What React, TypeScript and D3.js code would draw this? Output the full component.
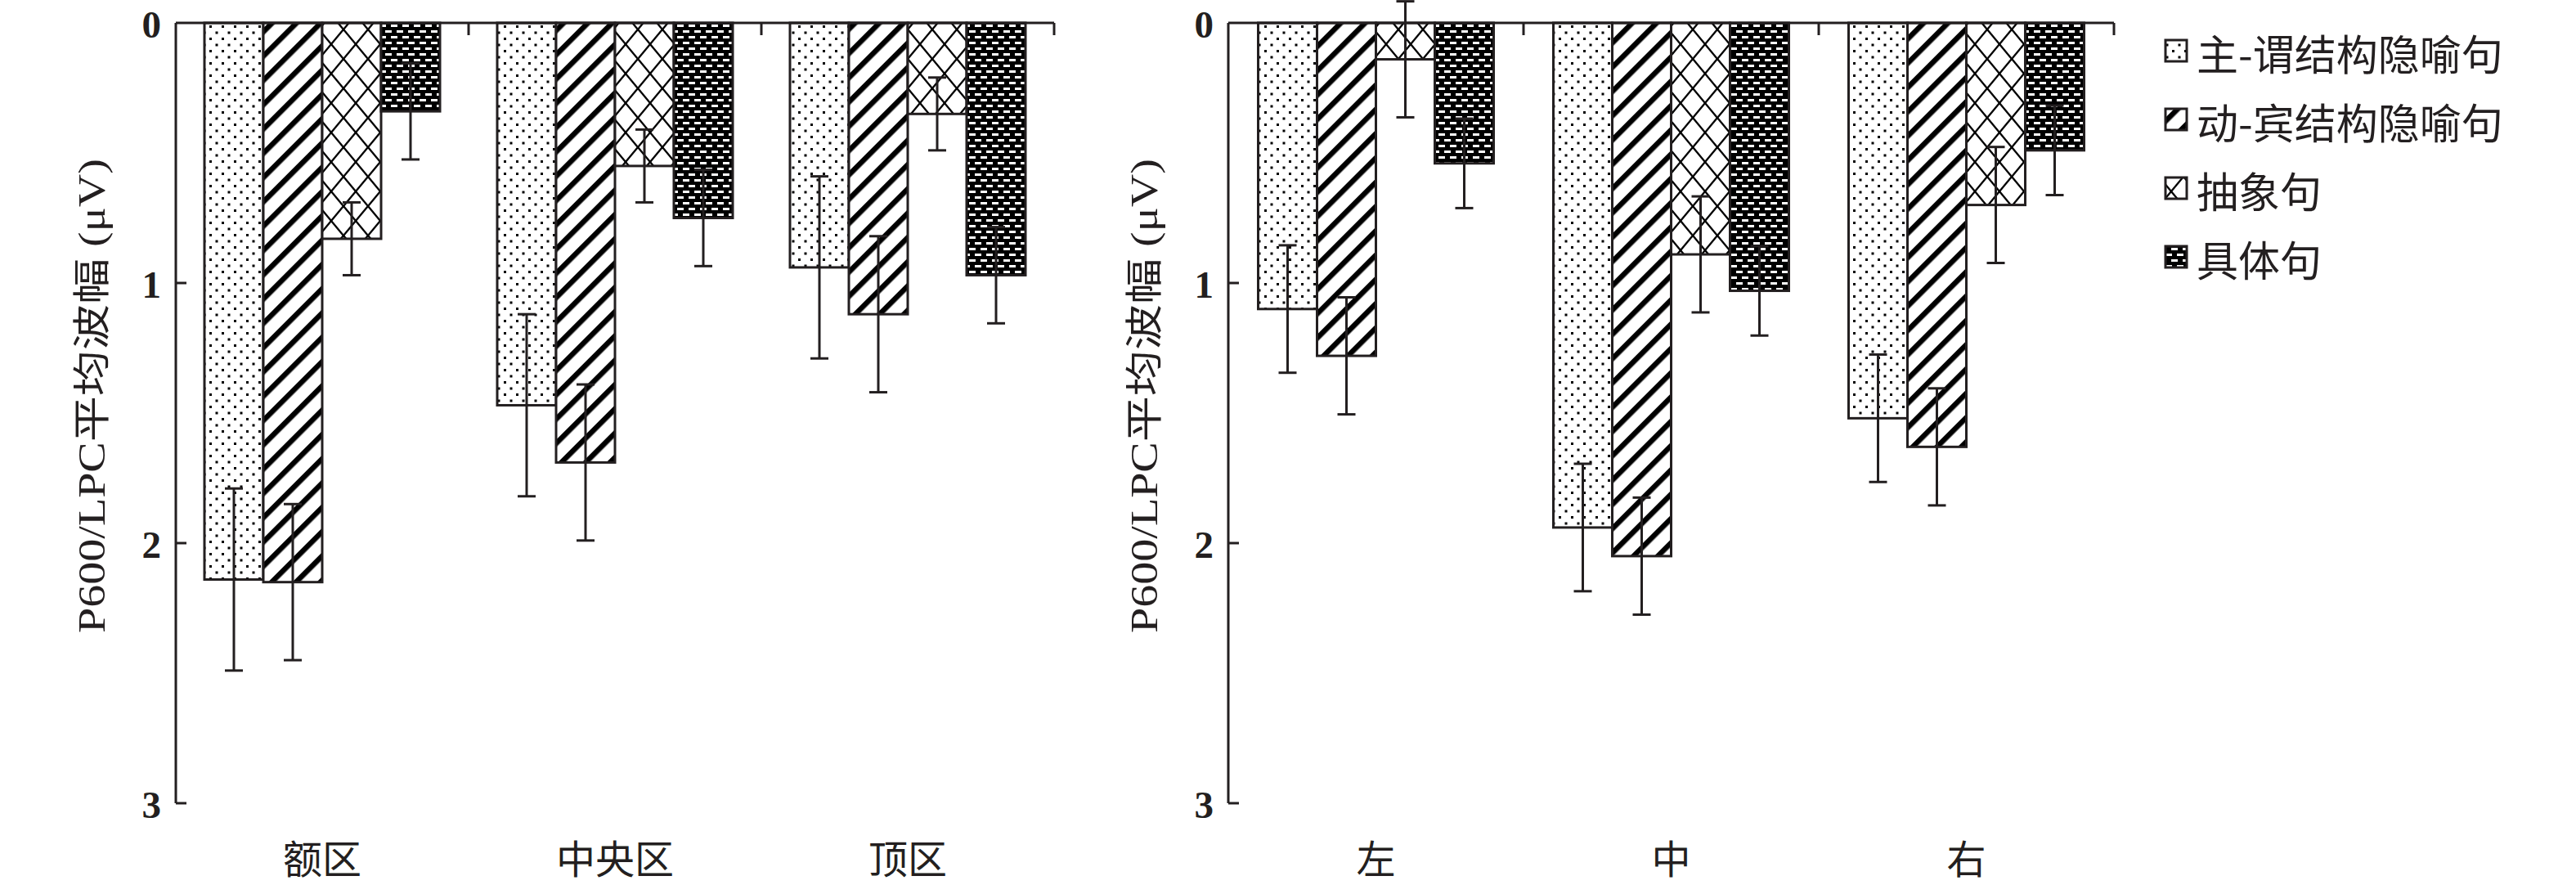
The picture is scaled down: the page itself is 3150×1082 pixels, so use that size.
import React from "react";
import * as d3 from "d3";

const seriesNames = ["主-谓结构隐喻句", "动-宾结构隐喻句", "抽象句", "具体句"];
const leftCategories = ["额区", "中央区", "顶区"];
const rightCategories = ["左", "中", "右"];
const yTicks = [0, 1, 2, 3];
const yTitle = "P600/LPC平均波幅 (μV)";

// left panel: means
const leftSubjPred = [2.14, 1.47, 0.94];
const leftVerbObj = [2.15, 1.69, 1.12];
const leftAbstract = [0.83, 0.55, 0.35];
const leftConcrete = [0.34, 0.75, 0.97];
// left panel: standard errors
const leftSubjPredErr = [0.35, 0.35, 0.35];
const leftVerbObjErr = [0.3, 0.3, 0.3];
const leftAbstractErr = [0.14, 0.14, 0.14];
const leftConcreteErr = [0.185, 0.185, 0.185];

// right panel: means
const rightSubjPred = [1.1, 1.94, 1.52];
const rightVerbObj = [1.28, 2.05, 1.63];
const rightAbstract = [0.14, 0.89, 0.7];
const rightConcrete = [0.54, 1.03, 0.49];
// right panel: standard errors
const rightSubjPredErr = [0.245, 0.245, 0.245];
const rightVerbObjErr = [0.225, 0.225, 0.225];
const rightAbstractErr = [0.223, 0.223, 0.223];
const rightConcreteErr = [0.172, 0.172, 0.172];

const INK = "#231f20";
const patternIds = ["pDots", "pDiag", "pCross", "pBrick"];

const W = 3150;
const H = 1082;
const yTop = 28;
const yBottom = 982;
const barW = 72;

type PanelProps = {
  x0: number;
  x1: number;
  cats: string[];
  values: number[][];
  errors: number[][];
};

function Panel({ x0, x1, cats, values, errors }: PanelProps) {
  const y = d3.scaleLinear().domain([0, 3]).range([yTop, yBottom]);
  const xBand = d3.scaleBand<string>().domain(cats).range([x0, x1]).padding(0);
  const bw = xBand.bandwidth();
  const groupW = barW * seriesNames.length;
  const pad = (bw - groupW) / 2;
  const xSub = d3
    .scaleBand<string>()
    .domain(seriesNames)
    .range([pad, pad + groupW])
    .padding(0);
  const boundaries = cats.map((c) => (xBand(c) as number) + bw);
  const capHalf = 11;
  return (
    <g>
      {cats.map((c, ci) => (
        <g key={c}>
          {seriesNames.map((s, si) => {
            const bx = (xBand(c) as number) + (xSub(s) as number);
            const v = values[si][ci];
            return (
              <rect
                key={s}
                x={bx}
                y={y(0)}
                width={xSub.bandwidth()}
                height={y(v) - y(0)}
                fill={`url(#${patternIds[si]})`}
                stroke={INK}
                strokeWidth={3}
              />
            );
          })}
        </g>
      ))}
      {cats.map((c, ci) => (
        <g key={c + "e"}>
          {seriesNames.map((s, si) => {
            const cx = (xBand(c) as number) + (xSub(s) as number) + xSub.bandwidth() / 2;
            const v = values[si][ci];
            const e = errors[si][ci];
            const lo = y(v - e);
            const hi = y(v + e);
            return (
              <g key={s} stroke={INK} strokeWidth={3}>
                <line x1={cx} x2={cx} y1={lo} y2={hi} />
                <line x1={cx - capHalf} x2={cx + capHalf} y1={lo} y2={lo} />
                <line x1={cx - capHalf} x2={cx + capHalf} y1={hi} y2={hi} />
              </g>
            );
          })}
        </g>
      ))}
      <line x1={x0} x2={x1} y1={y(0)} y2={y(0)} stroke={INK} strokeWidth={3} />
      <line x1={x0} x2={x0} y1={y(0)} y2={y(3)} stroke={INK} strokeWidth={3} />
      {boundaries.map((bx, i) => (
        <line key={i} x1={bx} x2={bx} y1={y(0)} y2={y(0) + 15} stroke={INK} strokeWidth={3} />
      ))}
      {yTicks.map((t) => (
        <g key={t}>
          {t > 0 && (
            <line x1={x0} x2={x0 + 13} y1={y(t)} y2={y(t)} stroke={INK} strokeWidth={3} />
          )}
          <text
            x={x0 - 18}
            y={y(t) + 2}
            textAnchor="end"
            dominantBaseline="central"
            fontFamily="'Liberation Serif', 'Times New Roman', serif"
            fontWeight="bold"
            fontSize={47}
            fill={INK}
          >
            {t}
          </text>
        </g>
      ))}
      {cats.map((c) => (
        <text
          key={c}
          x={(xBand(c) as number) + bw / 2}
          y={1047}
          textAnchor="middle"
          dominantBaseline="central"
          fontFamily="'Noto Sans CJK SC', sans-serif"
          fontSize={48}
          fill={INK}
        >
          {c}
        </text>
      ))}
      <text
        transform={`translate(${x0 - 103},${484}) rotate(-90)`}
        textAnchor="middle"
        dominantBaseline="central"
        fontFamily="'Liberation Serif', 'Noto Sans CJK SC', serif"
        fontSize={46}
        textLength={580}
        lengthAdjust="spacingAndGlyphs"
        fill={INK}
      >
        {yTitle}
      </text>
    </g>
  );
}

export default function App() {
  const leftValues = [leftSubjPred, leftVerbObj, leftAbstract, leftConcrete];
  const leftErrors = [leftSubjPredErr, leftVerbObjErr, leftAbstractErr, leftConcreteErr];
  const rightValues = [rightSubjPred, rightVerbObj, rightAbstract, rightConcrete];
  const rightErrors = [rightSubjPredErr, rightVerbObjErr, rightAbstractErr, rightConcreteErr];
  const legendY = d3.scaleLinear().domain([0, 3]).range([62, 314]);
  return (
    <svg
      width={W}
      height={H}
      style={{ position: "absolute", left: 0, top: 0, background: "#fff" }}
    >
      <defs>
        <pattern id="pDots" patternUnits="userSpaceOnUse" width={15} height={15}>
          <rect width={15} height={15} fill="#fff" />
          <rect x={1} y={1} width={3} height={3} fill="#000" />
          <rect x={8.5} y={8.5} width={3} height={3} fill="#000" />
        </pattern>
        <pattern
          id="pDiag"
          patternUnits="userSpaceOnUse"
          width={21}
          height={21}
          patternTransform="rotate(45)"
        >
          <rect width={21} height={21} fill="#fff" />
          <rect width={6.5} height={21} fill="#000" />
        </pattern>
        <pattern id="pCross" patternUnits="userSpaceOnUse" width={30} height={36}>
          <rect width={30} height={36} fill="#fff" />
          <line x1={0} y1={0} x2={30} y2={36} stroke="#000" strokeWidth={2.4} />
          <line x1={30} y1={0} x2={0} y2={36} stroke="#000" strokeWidth={2.4} />
        </pattern>
        <pattern id="pBrick" patternUnits="userSpaceOnUse" width={14} height={14}>
          <rect width={14} height={14} fill="#000" />
          <rect x={2} y={2} width={8} height={3} fill="#fff" />
          <rect x={9} y={9} width={5} height={3} fill="#fff" />
          <rect x={0} y={9} width={3} height={3} fill="#fff" />
        </pattern>
      </defs>
      <Panel x0={215} x1={1289} cats={leftCategories} values={leftValues} errors={leftErrors} />
      <Panel x0={1502} x1={2585} cats={rightCategories} values={rightValues} errors={rightErrors} />
      {seriesNames.map((s, i) => (
        <g key={s}>
          <rect
            x={2648}
            y={legendY(i) - 13}
            width={26}
            height={26}
            fill={`url(#${patternIds[i]})`}
            stroke={INK}
            strokeWidth={3}
          />
          <text
            x={2686}
            y={legendY(i) + 2}
            dominantBaseline="central"
            fontFamily="'Noto Sans CJK SC', sans-serif"
            fontSize={51}
            fill={INK}
          >
            {s}
          </text>
        </g>
      ))}
    </svg>
  );
}
